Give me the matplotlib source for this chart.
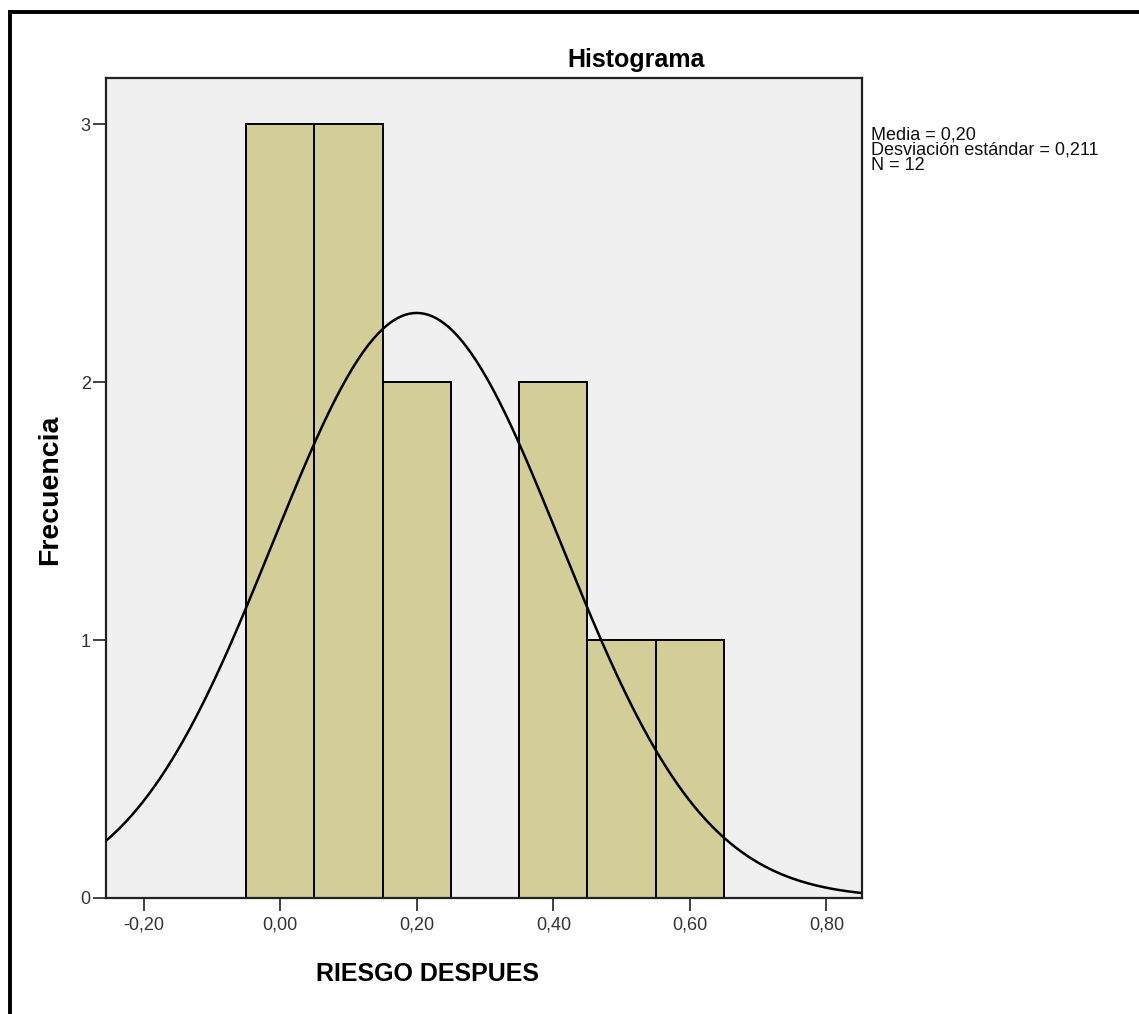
import numpy as np
import matplotlib.pyplot as plt
from matplotlib.lines import Line2D

# datos del histograma (clases de ancho 0,10)
centros = [0.0, 0.1, 0.2, 0.3, 0.4, 0.5, 0.6]
frecuencias = [3, 3, 2, 0, 2, 1, 1]
media = 0.20
desv = 0.211
n = 12
ancho = 0.10

xticks = [-0.2, 0.0, 0.2, 0.4, 0.6, 0.8]
yticks = [0, 1, 2, 3]

plt.rcParams['font.family'] = ['Liberation Sans', 'DejaVu Sans']

W, H = 1139, 1014
fig = plt.figure(figsize=(W / 100, H / 100), dpi=100)
ax = fig.add_axes([106 / W, 1 - 898 / H, (862 - 106) / W, (898 - 78) / H])
ax.set_facecolor('#f0f0f0')

ax.bar(centros, frecuencias, width=ancho, color='#d3ce97',
       edgecolor='black', linewidth=1.4, zorder=2)

# curva normal escalada al número de casos
xs = np.linspace(-0.26, 0.86, 400)
ys = n * ancho / (desv * np.sqrt(2 * np.pi)) * np.exp(-0.5 * ((xs - media) / desv) ** 2)
ax.plot(xs, ys, color='black', linewidth=1.8, zorder=3)

ax.set_xlim(-0.255, 0.852)
ax.set_ylim(0, 3.18)
ax.set_xticks(xticks)
ax.set_xticklabels([f'{v:.2f}'.replace('.', ',') for v in xticks])
ax.set_yticks(yticks)
ax.set_yticklabels([str(v) for v in yticks])
ax.tick_params(axis='both', direction='out', length=9.5, width=1.3,
               color='#333333', labelcolor='#333333', labelsize=13)
ax.tick_params(axis='x', pad=4)
ax.tick_params(axis='y', pad=1.5)
for s in ax.spines.values():
    s.set_linewidth(1.6)
    s.set_color('#222222')

fig.text(636 / W, 1 - 60 / H, 'Histograma', ha='center', va='center',
         fontsize=18, fontweight='bold')
fig.text(428 / W, 1 - 974 / H, 'RIESGO DESPUES', ha='center', va='center',
         fontsize=18, fontweight='bold')
fig.text(50 / W, 1 - 490 / H, 'Frecuencia', ha='center', va='center',
         rotation=90, fontsize=20.5, fontweight='bold')

# estadísticos, una línea cada uno
lineas = [f'Media = {media:.2f}', f'Desviación estándar = {desv:.3f}', f'N = {n}']
for i, t in enumerate(lineas):
    fig.text(871 / W, 1 - (139 + 15.5 * i) / H, t.replace('.', ','), ha='left',
             va='baseline', fontsize=13, color='#111111')

# marco exterior (borde superior e izquierdo)
fig.add_artist(Line2D([8.5 / W, 1], [1 - 11.5 / H, 1 - 11.5 / H], color='black',
                      linewidth=2.8, solid_capstyle='butt', transform=fig.transFigure))
fig.add_artist(Line2D([10 / W, 10 / W], [0, 1 - 10 / H], color='black',
                      linewidth=2.8, solid_capstyle='butt', transform=fig.transFigure))

fig.savefig('out.png', dpi=100)
